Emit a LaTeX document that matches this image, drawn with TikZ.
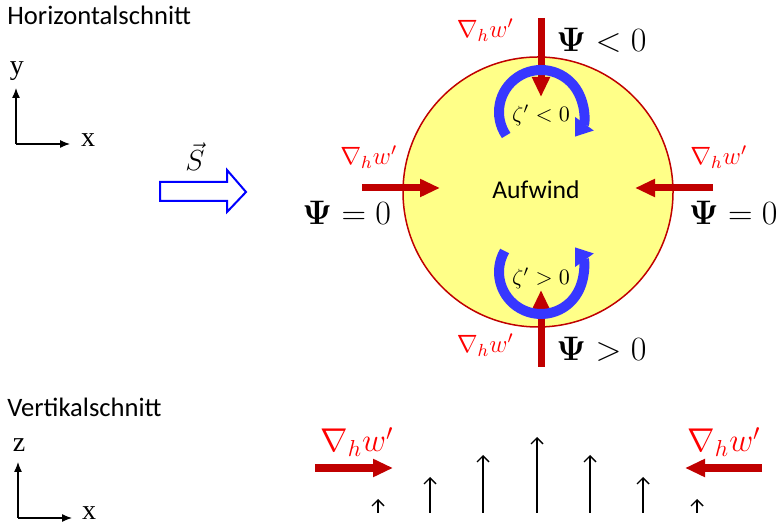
\RequirePackage{fix-cm}
\documentclass[tikz,border=0pt]{standalone}
\usepackage{amsmath, amssymb}
\usepackage{bm}
\usepackage{xcolor}
\usepackage{fontspec}
\newfontfamily\calib{Carlito}
\newfontfamily\tnr{Liberation Serif}
\usepackage{tikz}
\usetikzlibrary{
  positioning,
  arrows.meta,
  calc
}
\definecolor{dred}{RGB}{192,0,0}
\definecolor{vblue}{RGB}{55,55,255}
\definecolor{lyel}{RGB}{255,255,136}

\begin{document}
\begin{tikzpicture}[x=0.5pt,y=0.5pt,
  flow/.style={-{Triangle[length=10pt,width=8.5pt]},line width=3.5pt,dred},
  wirbel/.style={-{Triangle[length=8pt,width=11pt]},line width=5pt,vblue},
  achse/.style={-{Latex[length=5pt,width=4pt]},line width=0.6pt},
  hebung/.style={-{Straight Barb[length=3pt,width=6pt]},line width=0.7pt},
  grad/.style={text=red,inner sep=0,font=\fontsize{12.5}{15}\selectfont},
  psi/.style={inner sep=0,font=\fontsize{17}{20}\selectfont},
  titel/.style={inner sep=0,anchor=base west,font=\calib\fontsize{13.3}{16}\selectfont},
  ax/.style={inner sep=0,font=\tnr\fontsize{14}{16}\selectfont}]
  \useasboundingbox (0,0) rectangle (780,523);

  % Horizontalschnitt
  \node[titel] (hs) at (7,498) {Horizontalschnitt};
  \coordinate (O1) at (16,379);
  \coordinate (Y1) at (16,435);
  \coordinate (X1) at (70,379);
  \draw[achse] (O1)--(Y1);
  \draw[achse] (O1)--(X1);
  \node[ax] (ylab) at (17,452) {y};
  \node[ax] (xlab) at (88,383) {x};
  % Grundstrom
  \draw[blue,line width=1pt,fill=white] (160,341)--(227,341)--(227,353)--(246,331)
    --(227,311)--(227,322)--(160,322)--cycle;
  \node[inner sep=0,font=\fontsize{14.5}{17}\selectfont] (S) at (195,366) {$\vec{S}$};
  % Aufwindzelle
  \node[circle,draw=dred,fill=lyel,line width=0.75pt,minimum size=135pt,inner sep=0] (zelle) at (538,331) {};
  \node[font=\calib\fontsize{12.8}{15}\selectfont] (auf) at (536,333) {Aufwind};
  % Gradienten
  \coordinate (nA) at (541,505); \coordinate (nB) at (541,426);
  \coordinate (sA) at (541,156); \coordinate (sB) at (541,233);
  \coordinate (wA) at (362,335); \coordinate (wB) at (440,335);
  \coordinate (eA) at (713,335); \coordinate (eB) at (635,335);
  \draw[flow] (nA)--(nB);
  \draw[flow] (sA)--(sB);
  \draw[flow] (wA)--(wB);
  \draw[flow] (eA)--(eB);
  \node[grad,anchor=base east] (gn) at (514,485) {$\nabla_h w'$};
  \node[grad,anchor=base east] (gs) at (514,170) {$\nabla_h w'$};
  \node[grad,anchor=base west] (gw) at (340,358) {$\nabla_h w'$};
  \node[grad,anchor=base west] (ge) at (690,358) {$\nabla_h w'$};
  \node[psi,anchor=base west] (pn) at (556,471) {$\bm{\Psi}<0$};
  \node[psi,anchor=base west] (ps) at (556,162) {$\bm{\Psi}>0$};
  \node[psi,anchor=base west] (pw) at (302,298) {$\bm{\Psi}=0$};
  \node[psi,anchor=base east] (pe) at (778,298) {$\bm{\Psi}=0$};
  % Vorticity
  \draw[wirbel] (541,411) ++(214:42) arc[start angle=214,end angle=-36,radius=42];
  \draw[wirbel] (541,251) ++(150:42) arc[start angle=150,end angle=396,radius=42];
  \node[font=\fontsize{11}{13}\selectfont] (zn) at (541,408) {$\zeta'<0$};
  \node[font=\fontsize{11}{13}\selectfont] (zs) at (541,245) {$\zeta'>0$};

  % Vertikalschnitt
  \node[titel] (vs) at (7,106) {Vertikalschnitt};
  \coordinate (O2) at (18,5);
  \coordinate (Z2) at (18,61);
  \coordinate (X2) at (72,5);
  \draw[achse] (O2)--(Z2);
  \draw[achse] (O2)--(X2);
  \node[ax] (zlab) at (19,78) {z};
  \node[ax] (xlab2) at (89,10) {x};
  \coordinate (lA) at (315,55); \coordinate (lB) at (393,55);
  \coordinate (rA) at (762,55); \coordinate (rB) at (685,55);
  \draw[flow,line width=4pt] (lA)--(lB);
  \draw[flow,line width=4pt] (rA)--(rB);
  \node[grad,anchor=base,font=\fontsize{16.5}{19}\selectfont] (gl) at (357,71) {$\nabla_h w'$};
  \node[grad,anchor=base,font=\fontsize{16.5}{19}\selectfont] (gr) at (724,71) {$\nabla_h w'$};
  \foreach \px/\ty in {378/24,430/46,483/68,537/86,590/68,643/46,697/24}{
    \coordinate (b\px) at (\px,10);
    \coordinate (t\px) at (\px,\ty);
    \draw[hebung] (b\px)--(t\px);
  }
\end{tikzpicture}
\end{document}
